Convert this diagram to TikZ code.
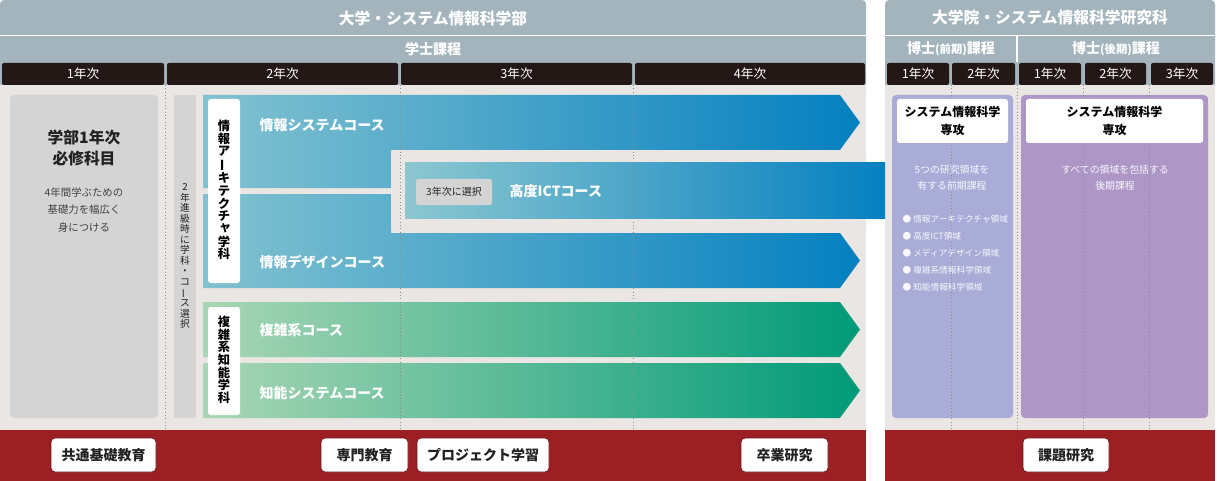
\documentclass[tikz,border=0pt]{standalone}
\usepackage{fontspec}
\setmainfont{Noto Sans CJK JP}
\definecolor{hdr}{HTML}{A4B4BD}
\definecolor{yearbar}{HTML}{231815}
\definecolor{bgc}{HTML}{EAE6E3}
\definecolor{gbox}{HTML}{D4D4D4}
\definecolor{blueL}{HTML}{82C2D0}
\definecolor{ictL}{HTML}{8CC7D0}
\definecolor{blueR}{HTML}{0480C0}
\definecolor{greenL}{HTML}{A9D6B4}
\definecolor{greenR}{HTML}{009A78}
\definecolor{redband}{HTML}{9C1F24}
\definecolor{purpL}{HTML}{A9ACD6}
\definecolor{purpR}{HTML}{AE97C7}
\definecolor{txtd}{HTML}{222222}
\newcommand{\vbar}{\rotatebox[origin=c]{90}{ー}}
\newcommand{\smallkana}[1]{\hspace*{2pt}\raisebox{1.5pt}{#1}}
\begin{document}
\begin{tikzpicture}[x=0.75pt,y=-0.75pt,
  yb/.style={fill=yearbar, rounded corners=1.5pt, text=white, inner sep=0pt,
    minimum height=16.5pt, font=\fontsize{9.5}{11}\selectfont},
  hdrtxt/.style={text=white, font=\bfseries\fontsize{11.8}{13}\selectfont},
  hdrtxt2/.style={text=white, font=\bfseries\fontsize{10.5}{12}\selectfont},
  course/.style={anchor=west, text=white, font=\bfseries\fontsize{10.5}{12}\selectfont},
  botlbl/.style={fill=white, draw=redband!70!black, line width=0.6pt, rounded corners=3pt,
    minimum height=25.5pt, inner sep=0pt, text=txtd, font=\bfseries\fontsize{10.5}{12}\selectfont},
  vlabel/.style={fill=white, rounded corners=2pt, inner sep=0pt, minimum width=24pt},
  vtxt/.style={align=center, text=black, font=\bfseries\fontsize{9.2}{9.5}\selectfont},
  dotl/.style={draw=black!45, dotted, line width=0.5pt},
  ptxt/.style={text=white!92!purpL, align=center, font=\fontsize{7.4}{12}\selectfont},
  bul/.style={anchor=west, text=white!92!purpL, font=\fontsize{6.5}{8}\selectfont},
  wbox/.style={fill=white, rounded corners=2pt, inner sep=0pt, minimum height=33pt,
    align=center, text=black, font=\bfseries\fontsize{9}{14}\selectfont}
]
\useasboundingbox (0,0) rectangle (1220,481);

% ===== left panel background =====
\fill[hdr, rounded corners=3pt] (0,0) rectangle (866,95);
\fill[bgc] (0,85) rectangle (866,430);
\draw[white, line width=0.9pt] (0,35.5) -- (866,35.5);
\node[hdrtxt] (t1) at (433,18) {大学・システム情報科学部};
\node[hdrtxt2] (t2) at (433,49) {学士課程};
\node[yb, minimum width=121.5pt] (y1) at (83,74) {1年次};
\node[yb, minimum width=173.25pt] (y2) at (282.5,74) {2年次};
\node[yb, minimum width=173.25pt] (y3) at (516.5,74) {3年次};
\node[yb, minimum width=172.5pt] (y4) at (750,74) {4年次};

% ===== right panel background =====
\fill[hdr, rounded corners=3pt] (885,0) rectangle (1215,95);
\fill[bgc] (885,85) rectangle (1215,430);
\draw[white, line width=0.9pt] (885,35.5) -- (1215,35.5);
\draw[white, line width=0.9pt] (1017,36) -- (1017,62);
\node[hdrtxt] (t3) at (1050,18) {大学院・システム情報科学研究科};
\node[hdrtxt2] (t4) at (951,49) {博士\fontsize{8.5}{10}\selectfont(前期)\fontsize{10.5}{12}\selectfont 課程};
\node[hdrtxt2] (t5) at (1116,49) {博士\fontsize{8.5}{10}\selectfont(後期)\fontsize{10.5}{12}\selectfont 課程};
\node[yb, minimum width=46.5pt] (r1) at (918,74) {1年次};
\node[yb, minimum width=47.25pt] (r2) at (983.5,74) {2年次};
\node[yb, minimum width=46.5pt] (r3) at (1050,74) {1年次};
\node[yb, minimum width=45.75pt] (r4) at (1115.5,74) {2年次};
\node[yb, minimum width=46.5pt] (r5) at (1182,74) {3年次};

% ===== 1st year box =====
\fill[gbox, rounded corners=3pt] (10,95) rectangle (158,418);
\node[text=txtd, font=\bfseries\fontsize{11.8}{13}\selectfont] (g1) at (84,137) {学部1年次};
\node[text=txtd, font=\bfseries\fontsize{11.8}{13}\selectfont] (g2) at (84,158) {必修科目};
\node[text=txtd!85, align=center, font=\fontsize{7.8}{13.1}\selectfont] (g3) at (84,210) {4年間学ぶための\\基礎力を幅広く\\身につける};

% ===== selection strip =====
\fill[gbox] (174,95) rectangle (196,418);
\node[align=center, text=txtd, inner sep=0pt, font=\fontsize{7.3}{7.9}\selectfont] (strip) at (185,256)
  {2\\年\\進\\級\\時\\に\\学\\科\\・\\コ\\\vbar\\ス\\選\\択};

% ===== blue arrows =====
\shade[left color=blueL, right color=blueR]
  (203,95) -- (840,95) -- (860,122.5) -- (840,150) -- (391,150) -- (391,188) -- (203,188) -- cycle;
\shade[left color=blueL, right color=blueR]
  (203,194) -- (391,194) -- (391,233) -- (840,233) -- (860,260.5) -- (840,288) -- (203,288) -- cycle;
\fill[bgc, rounded corners=3pt] (391,150.5) rectangle (866,231);
\shade[left color=ictL, right color=blueR] (405,163) rectangle (885,218);

% ===== green arrows =====
\shade[left color=greenL, right color=greenR]
  (203,302) -- (840,302) -- (860,329.5) -- (840,357) -- (203,357) -- cycle;
\shade[left color=greenL, right color=greenR]
  (203,363) -- (840,363) -- (860,390.5) -- (840,418) -- (203,418) -- cycle;

% ===== purple boxes =====
\fill[purpL, rounded corners=3pt] (892,95) rectangle (1013,418);
\fill[purpR, rounded corners=3pt] (1021,95) rectangle (1208,418);

% ===== dotted year lines =====
\foreach \xx in {165,400,633,951,1017,1083,1149}
  \draw[dotl] (\xx,85) -- (\xx,430);

% ===== vertical department labels =====
\node[vlabel, minimum height=138pt] (dep1) at (224,191) {};
\node[vtxt] (dep1t) at (224,190) {情\\報\\ア\\\vbar\\キ\\テ\\ク\\チ\\\smallkana{ャ}\\学\\科};
\node[vlabel, minimum height=81pt] (dep2) at (224,361) {};
\node[vtxt] (dep2t) at (224,360) {複\\雑\\系\\知\\能\\学\\科};

% ===== course names =====
\node[course] (c1) at (255,125) {情報システムコース};
\node[course] (c2) at (255,262) {情報デザインコース};
\node[course] (c3) at (255,330) {複雑系コース};
\node[course] (c4) at (255,393) {知能システムコース};
\node[fill=gbox, rounded corners=1.5pt, inner sep=0pt, minimum width=57pt, minimum height=19.5pt,
  text=txtd, font=\fontsize{7.5}{9}\selectfont] (sel) at (454,192) {3年次に選択};
\node[course] (c5) at (505,191) {高度ICTコース};

% ===== graduate texts =====
\node[wbox, minimum width=83.25pt] (m1) at (952.5,121) {システム情報科学\\専攻};
\node[wbox, minimum width=132.75pt] (m2) at (1114.5,121) {システム情報科学\\専攻};
\node[ptxt] (p1) at (952,178) {5つの研究領域を\\有する前期課程};
\node[ptxt] (p2) at (1115,178) {すべての領域を包括する\\後期課程};
\node[bul] (b1) at (898,219) {● 情報アーキテクチャ領域};
\node[bul] (b2) at (898,236) {● 高度ICT領域};
\node[bul] (b3) at (898,253) {● メディアデザイン領域};
\node[bul] (b4) at (898,270) {● 複雑系情報科学領域};
\node[bul] (b5) at (898,287) {● 知能情報科学領域};

% ===== bottom band =====
\fill[redband] (0,430) rectangle (866,481);
\fill[redband] (885,430) rectangle (1215,481);
\node[botlbl, minimum width=78.75pt] (e1) at (103.5,455) {共通基礎教育};
\node[botlbl, minimum width=65.25pt] (e2) at (364.5,455) {専門教育};
\node[botlbl, minimum width=99pt] (e3) at (483,455) {プロジェクト学習};
\node[botlbl, minimum width=65.25pt] (e4) at (784.5,455) {卒業研究};
\node[botlbl, minimum width=64.5pt] (e5) at (1066,455) {課題研究};
\end{tikzpicture}
\end{document}
